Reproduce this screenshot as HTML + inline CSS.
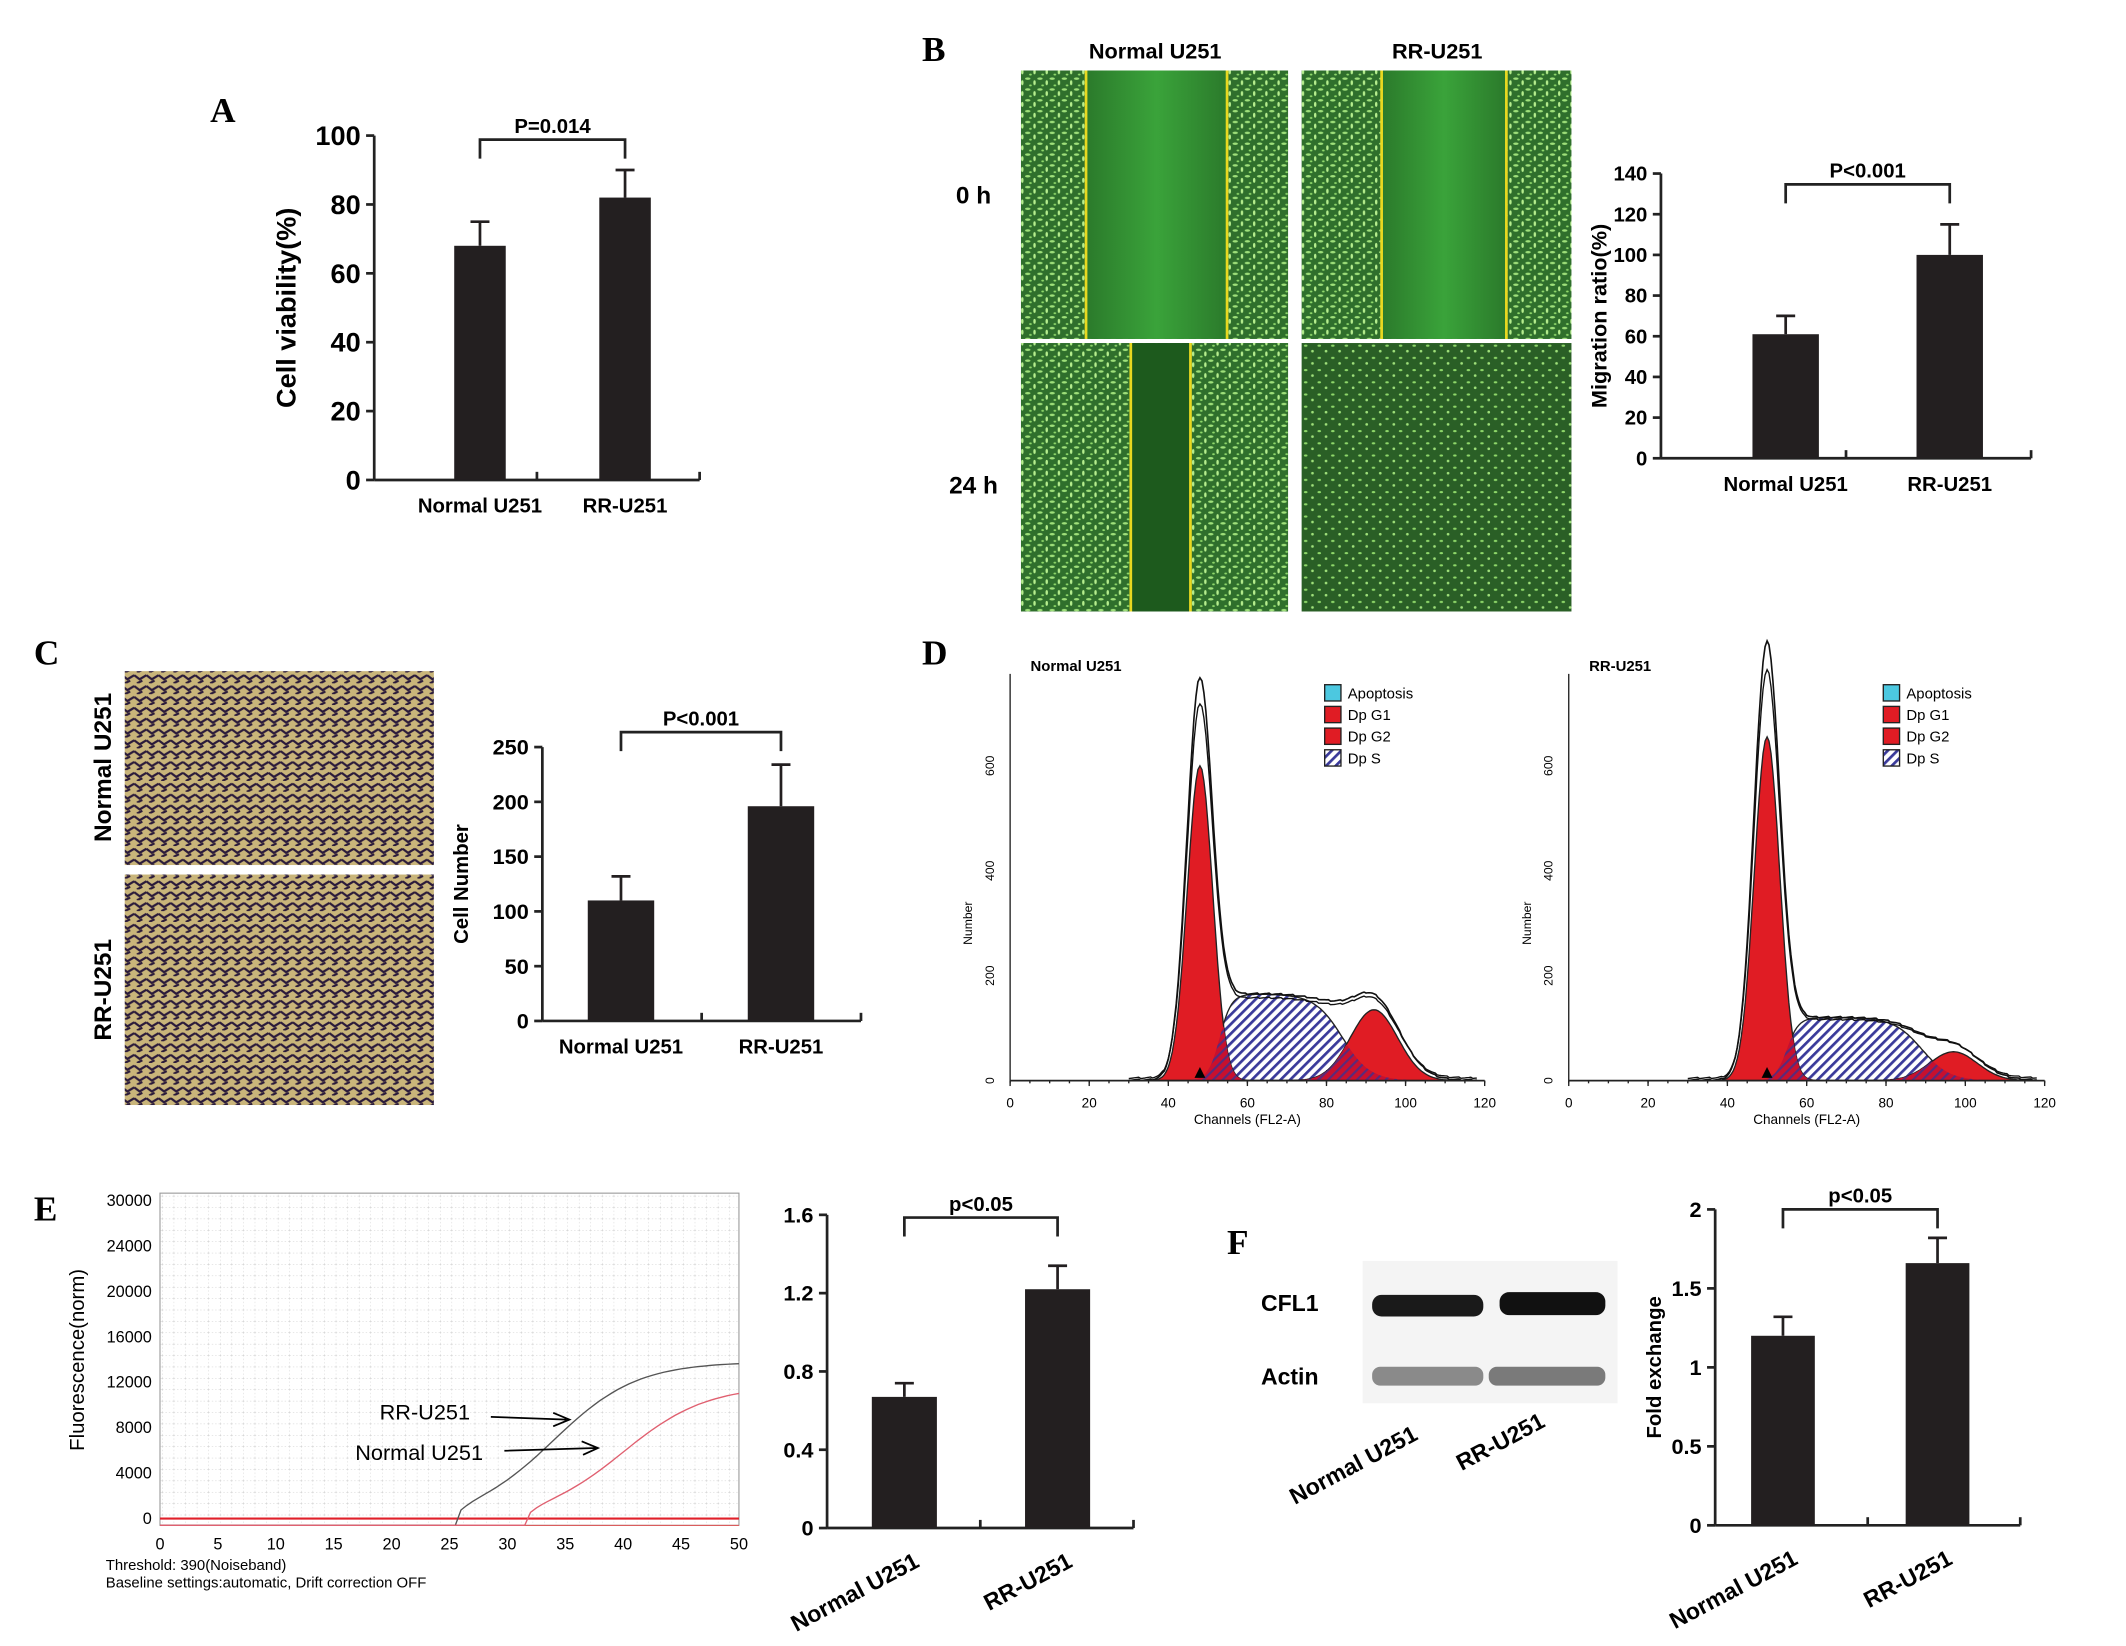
<!DOCTYPE html>
<html><head><meta charset="utf-8">
<style>
html,body{margin:0;padding:0;background:#fff;}
svg{display:block;font-family:"Liberation Sans",Arial,sans-serif;}
.b{font-weight:bold;}
</style></head>
<body>
<svg id="fig" xmlns="http://www.w3.org/2000/svg" width="2126" height="1646" viewBox="0 0 1568 1214" preserveAspectRatio="none">
<defs>
<pattern id="cells" width="9" height="8" patternUnits="userSpaceOnUse">
<rect width="9" height="8" fill="#2f6f2c"/>
<ellipse cx="2" cy="2" rx="2" ry="0.9" fill="#9fe07a"/>
<ellipse cx="7" cy="5" rx="0.9" ry="1.8" fill="#b6ee8e"/>
<ellipse cx="4" cy="7" rx="1" ry="0.7" fill="#8fd86a"/>
</pattern>
<pattern id="cellsB" width="10" height="9" patternUnits="userSpaceOnUse">
<rect width="10" height="9" fill="#2a5f26"/>
<ellipse cx="3" cy="3" rx="1.3" ry="0.8" fill="#8fd86a"/>
<ellipse cx="8" cy="7" rx="1" ry="1" fill="#9fe07a"/>
</pattern>
<linearGradient id="gap" x1="0" x2="1"><stop offset="0" stop-color="#2b7a2b"/><stop offset="0.5" stop-color="#3aa33a"/><stop offset="1" stop-color="#2b7a2b"/></linearGradient>
<pattern id="trans" width="9" height="8" patternUnits="userSpaceOnUse">
<rect width="9" height="8" fill="#c9b57a"/>
<path d="M0 2 L4 5 L9 2 M2 8 L6 6" stroke="#2a1a3a" stroke-width="1.6" fill="none"/>
</pattern>
<pattern id="hatch" width="5" height="5" patternUnits="userSpaceOnUse" patternTransform="rotate(45)">
<rect width="5" height="5" fill="#fff"/><rect width="2" height="5" fill="#3a3a9a"/>
</pattern>
<pattern id="hatchR" width="5" height="5" patternUnits="userSpaceOnUse" patternTransform="rotate(45)">
<rect width="5" height="5" fill="#c8102e"/><rect width="1.6" height="5" fill="#5a2a7a"/>
</pattern>
<pattern id="grid" width="8.54" height="8.4" patternUnits="userSpaceOnUse">
<path d="M0 0 V8.4 M0 0 H8.54" stroke="#bbb" stroke-width="0.5" stroke-dasharray="1,1.5" fill="none"/>
</pattern>
</defs>

<text x="155" y="90" font-size="26" font-family="Liberation Serif" class="b">A</text>
<text x="680" y="45" font-size="26" font-family="Liberation Serif" class="b">B</text>
<text x="25" y="490" font-size="26" font-family="Liberation Serif" class="b">C</text>
<text x="680" y="490" font-size="26" font-family="Liberation Serif" class="b">D</text>
<text x="25" y="900" font-size="26" font-family="Liberation Serif" class="b">E</text>
<text x="905" y="925" font-size="26" font-family="Liberation Serif" class="b">F</text>

<g>
<text x="852" y="43" font-size="16" class="b" text-anchor="middle">Normal U251</text>
<text x="1060" y="43" font-size="16" class="b" text-anchor="middle">RR-U251</text>
<text x="718" y="150" font-size="18" class="b" text-anchor="middle">0 h</text>
<text x="718" y="364" font-size="18" class="b" text-anchor="middle">24 h</text>
<rect x="753" y="52" width="197" height="198" fill="url(#cells)"/>
<rect x="801" y="52" width="104" height="198" fill="url(#gap)"/>
<rect x="960" y="52" width="199" height="198" fill="url(#cells)"/>
<rect x="1019" y="52" width="92" height="198" fill="url(#gap)"/>
<rect x="753" y="253" width="197" height="198" fill="url(#cells)"/>
<rect x="834" y="253" width="44" height="198" fill="#1d5a1d"/>
<rect x="960" y="253" width="199" height="198" fill="url(#cellsB)"/>
<g stroke="#e8d820" stroke-width="2">
<line x1="801" y1="52" x2="801" y2="250"/><line x1="905" y1="52" x2="905" y2="250"/>
<line x1="1019" y1="52" x2="1019" y2="250"/><line x1="1111" y1="52" x2="1111" y2="250"/>
<line x1="834" y1="253" x2="834" y2="451"/><line x1="878" y1="253" x2="878" y2="451"/>
</g></g>

<g>
<rect x="92" y="495" width="228" height="143" fill="url(#trans)"/>
<rect x="92" y="645" width="228" height="170" fill="url(#trans)"/>
<text transform="translate(82,566) rotate(-90)" font-size="18" class="b" text-anchor="middle">Normal U251</text>
<text transform="translate(82,730) rotate(-90)" font-size="18" class="b" text-anchor="middle">RR-U251</text>
</g>

<g>
<rect x="118" y="880" width="427" height="245" fill="url(#grid)" stroke="#999" stroke-width="0.8"/>
<g id="qpcrAxes"></g>
<text transform="translate(62,1003) rotate(-90)" font-size="15" text-anchor="middle">Fluorescence(norm)</text>
<text x="78" y="1158" font-size="11">Threshold:          390(Noiseband)</text>
<text x="78" y="1171" font-size="11">Baseline settings:automatic, Drift correction OFF</text>
<text x="280" y="1047" font-size="16">RR-U251</text>
<text x="262" y="1077" font-size="16">Normal U251</text>
<path d="M362 1045 L418 1047 M408 1042 L420 1047 L408 1052" stroke="#000" fill="none" stroke-width="1.3"/>
<path d="M372 1070 L440 1068 M429 1063 L441 1068 L430 1073" stroke="#000" fill="none" stroke-width="1.3"/>
</g>

<g>
<rect x="1005" y="930" width="188" height="105" fill="#f4f4f4"/>
<text x="930" y="967" font-size="17" class="b">CFL1</text>
<text x="930" y="1021" font-size="17" class="b">Actin</text>
<rect x="1012" y="955" width="82" height="16" rx="7" fill="#1a1a1a"/>
<rect x="1106" y="953" width="78" height="17" rx="7" fill="#111"/>
<rect x="1012" y="1008" width="82" height="14" rx="6" fill="#8a8a8a"/>
<rect x="1098" y="1008" width="86" height="14" rx="6" fill="#7a7a7a"/>
<text transform="translate(955,1110) rotate(-28)" font-size="17" class="b">Normal U251</text>
<text transform="translate(1078,1085) rotate(-28)" font-size="17" class="b">RR-U251</text>
</g>

<g id="charts"></g>
</svg>
<script>
const NS='http://www.w3.org/2000/svg';
const root=document.getElementById('charts');
function mk(tag,attrs,parent,txt){const e=document.createElementNS(NS,tag);for(const k in attrs)e.setAttribute(k,attrs[k]);if(txt!==undefined)e.textContent=txt;(parent||root).appendChild(e);return e;}

const categories=['Normal U251','RR-U251'];
const aValues=[68,82]; const aErr=[75,90]; const aTicks=[0,20,40,60,80,100]; const aP='P=0.014';
const bValues=[61,100]; const bErr=[70,115]; const bTicks=[0,20,40,60,80,100,120,140]; const bP='P<0.001';
const cValues=[110,196]; const cErr=[132,234]; const cTicks=[0,50,100,150,200,250]; const cP='P<0.001';
const eValues=[0.67,1.22]; const eErr=[0.74,1.34]; const eTicks=[0,0.4,0.8,1.2,1.6]; const eP='p<0.05';
const fValues=[1.2,1.66]; const fErr=[1.32,1.82]; const fTicks=[0,0.5,1,1.5,2]; const fP='p<0.05';
const flowNormal=[600,48,165,135,92]; const flowRR=[655,50,120,55,97];
const flowXTicks=[0,20,40,60,80,100,120]; const flowYTicks=[0,200,400,600];
const qpcrCt=[26,32]; const qpcrMax=[13800,11700];
const qpcrXTicks=[0,5,10,15,20,25,30,35,40,45,50];
const qpcrYTicks=[0,4000,8000,12000,16000,20000,24000,30000];

function barChart(o){
  const g=mk('g',{});
  
  
  const y=v=>o.y0-(v/o.max)*(o.y0-o.y1);
  mk('line',{x1:o.x0,y1:o.y0,x2:o.x0,y2:o.y1,stroke:'#222','stroke-width':2},g);
  mk('line',{x1:o.x0,y1:o.y0,x2:o.xEnd,y2:o.y0,stroke:'#222','stroke-width':2},g);
  mk('line',{x1:(o.x0+o.xEnd)/2,y1:o.y0,x2:(o.x0+o.xEnd)/2,y2:o.y0-6,stroke:'#222','stroke-width':2},g);
  mk('line',{x1:o.xEnd,y1:o.y0,x2:o.xEnd,y2:o.y0-6,stroke:'#222','stroke-width':2},g);
  o.ticks.forEach(t=>{
    mk('line',{x1:o.x0-6,y1:y(t),x2:o.x0,y2:y(t),stroke:'#222','stroke-width':2},g);
    const tl=mk('text',{x:o.x0-10,y:y(t)+o.fs*0.35,'font-size':o.fs,'font-weight':'bold','text-anchor':'end'},g,String(t));
    
    
  });
  o.values.forEach((v,i)=>{
    const cx=o.cx[i];
    const r=mk('rect',{x:cx-o.bw/2,y:y(v),width:o.bw,height:o.y0-y(v),fill:'#231f20'},g);
    
    
    mk('line',{x1:cx,y1:y(v),x2:cx,y2:y(o.err[i]),stroke:'#231f20','stroke-width':2},g);
    mk('line',{x1:cx-7,y1:y(o.err[i]),x2:cx+7,y2:y(o.err[i]),stroke:'#231f20','stroke-width':2},g);
    let lab;
    if(o.rot) lab=mk('text',{transform:`translate(${cx+12},${o.y0+28}) rotate(-28)`,'font-size':17,'font-weight':'bold','text-anchor':'end'},g,categories[i]);
    else lab=mk('text',{x:cx,y:o.y0+24,'font-size':15,'font-weight':'bold','text-anchor':'middle'},g,categories[i]);
    
    
  });
  const by=o.by, a=o.cx[0], b=o.cx[1];
  mk('path',{d:`M${a} ${by+14} V${by} H${b} V${by+14}`,stroke:'#222','stroke-width':2,fill:'none'},g);
  const pt=mk('text',{x:(a+b)/2,y:by-5,'font-size':15,'font-weight':'bold','text-anchor':'middle'},g,o.p);
  
  
  if(o.title){
    const t=mk('text',{transform:`translate(${o.tx},${(o.y0+o.y1)/2}) rotate(-90)`,'font-size':o.tfs||18,'font-weight':'bold','text-anchor':'middle'},g,o.title);
    
    
  }
}
barChart({name:'chart-a-cell-viability',x0:276,xEnd:516,y0:354,y1:100,max:100,cx:[354,461],bw:38,values:aValues,err:aErr,ticks:aTicks,fs:20,by:103,p:aP,title:'Cell viability(%)',tx:218,tfs:20});
barChart({name:'chart-b-migration',x0:1225,xEnd:1498,y0:338,y1:128,max:140,cx:[1317,1438],bw:49,values:bValues,err:bErr,ticks:bTicks,fs:15,by:136,p:bP,title:'Migration ratio(%)',tx:1185,tfs:16});
barChart({name:'chart-c-cell-number',x0:400,xEnd:635,y0:753,y1:551,max:250,cx:[458,576],bw:49,values:cValues,err:cErr,ticks:cTicks,fs:16,by:540,p:cP,title:'Cell Number',tx:345,tfs:15});
barChart({name:'chart-e-expression',x0:610,xEnd:836,y0:1127,y1:896,max:1.6,cx:[667,780],bw:48,values:eValues,err:eErr,ticks:eTicks,fs:16,by:898,p:eP,rot:true});
barChart({name:'chart-f-fold-exchange',x0:1265,xEnd:1490,y0:1125,y1:892,max:2,cx:[1315,1429],bw:47,values:fValues,err:fErr,ticks:fTicks,fs:16,by:892,p:fP,title:'Fold exchange',tx:1225,tfs:15,rot:true});

function flow(name,title,x0,x1,y0,d){
  const g=mk('g',{});
  
  
  const X=c=>x0+(c/120)*(x1-x0), Y=v=>y0-v*0.387;
  const [g1h,g1c,sh,g2h,g2c]=d;
  const gauss=(c,h,m,s)=>h*Math.exp(-((c-m)**2)/(2*s*s));
  const sfun=c=>{const l=1/(1+Math.exp(-(c-(g1c+5))/1.5)),r=1/(1+Math.exp((c-(g2c-8))/3.5));return sh*l*r;};
  const pts=(f)=>{let s='';for(let c=30;c<=118;c+=0.5){s+=(s?'L':'M')+X(c).toFixed(1)+' '+Y(f(c)).toFixed(1);}return s;};
  const area=f=>pts(f)+`L${X(118)} ${y0} L${X(30)} ${y0}Z`;
  mk('path',{d:area(c=>sfun(c)),fill:'url(#hatch)',stroke:'#222','stroke-width':1},g);
  mk('path',{d:area(c=>gauss(c,g1h,g1c,3.2)),fill:'#e01c24',stroke:'#222','stroke-width':1},g);
  mk('path',{d:area(c=>gauss(c,g2h,g2c,6)),fill:'#e01c24',stroke:'#222','stroke-width':1},g);
  mk('path',{d:area(c=>Math.min(sfun(c),gauss(c,g1h,g1c,3.2))),fill:'url(#hatchR)'},g);
  mk('path',{d:area(c=>Math.min(sfun(c),gauss(c,g2h,g2c,6))),fill:'url(#hatchR)'},g);
  const tot=c=>gauss(c,g1h*1.27,g1c,3.3)+sfun(c)+gauss(c,g2h*1.1,g2c,6.5)+((c*7)%3);
  mk('path',{d:pts(tot),fill:'none',stroke:'#111','stroke-width':1.2},g);
  mk('path',{d:pts(c=>tot(c)*0.93+4),fill:'none',stroke:'#111','stroke-width':1},g);
  mk('line',{x1:x0,y1:y0,x2:x1,y2:y0,stroke:'#222','stroke-width':1.3},g);
  mk('line',{x1:x0,y1:y0,x2:x0,y2:y0-300,stroke:'#222','stroke-width':1},g);
  flowXTicks.forEach(t=>{mk('line',{x1:X(t),y1:y0,x2:X(t),y2:y0+4,stroke:'#222'},g);mk('text',{x:X(t),y:y0+20,'font-size':10,'text-anchor':'middle'},g,String(t));});
  for(let t=0;t<=120;t+=5)mk('line',{x1:X(t),y1:y0,x2:X(t),y2:y0+2,stroke:'#222'},g);
  flowYTicks.forEach(t=>{mk('text',{transform:`translate(${x0-12},${Y(t)}) rotate(-90)`,'font-size':9,'text-anchor':'middle'},g,String(t));});
  mk('text',{transform:`translate(${x0-28},${Y(300)}) rotate(-90)`,'font-size':9,'text-anchor':'middle'},g,'Number');
  mk('text',{x:X(60),y:y0+32,'font-size':10,'text-anchor':'middle'},g,'Channels (FL2-A)');
  mk('path',{d:`M${X(g1c)-4} ${y0-2} L${X(g1c)+4} ${y0-2} L${X(g1c)} ${y0-10}Z`,fill:'#000'},g);
  mk('text',{x:x0+15,y:y0-302,'font-size':11,'font-weight':'bold'},g,title);
  const lx=x0+232,ly=y0-292;
  [['#4cc8e0','Apoptosis'],['#e01c24','Dp G1'],['#e01c24','Dp G2'],['url(#hatch)','Dp S']].forEach((e,i)=>{
    mk('rect',{x:lx,y:ly+i*16,width:12,height:12,fill:e[0],stroke:'#222'},g);
    mk('text',{x:lx+17,y:ly+i*16+10,'font-size':11},g,e[1]);
  });
}
flow('flow-histogram-normal','Normal U251',745,1095,797,flowNormal);
flow('flow-histogram-rr','RR-U251',1157,1508,797,flowRR);

(function(){
  const g=document.getElementById('qpcrAxes');
  const X=c=>118+c/50*427, Y=v=>1120-v*(33.5/4000);
  qpcrXTicks.forEach(t=>mk('text',{x:X(t),y:1143,'font-size':12,'text-anchor':'middle'},g,String(t)));
  qpcrYTicks.forEach((t,i)=>mk('text',{x:112,y:1120-i*33.5+4,'font-size':12,'text-anchor':'end'},g,String(t)));
  mk('line',{x1:118,y1:Y(0),x2:545,y2:Y(0),stroke:'#e0202a','stroke-width':1.5},g);
  mk('line',{x1:118,y1:Y(-600),x2:545,y2:Y(-600),stroke:'#e05050','stroke-width':0.8},g);
  ['#555','#e06070'].forEach((col,i)=>{
    let s='';
    for(let c=0;c<=50;c+=0.5){const v=c<qpcrCt[i]?-600:qpcrMax[i]/(1+Math.exp(-(c-qpcrCt[i]-8)/3.6))-600*Math.exp(-(c-qpcrCt[i]));s+=(s?'L':'M')+X(c).toFixed(1)+' '+Y(v).toFixed(1);}
    const p=mk('path',{d:s,fill:'none',stroke:col,'stroke-width':1},g);
    
    
  });
})();
</script>
</body></html>
